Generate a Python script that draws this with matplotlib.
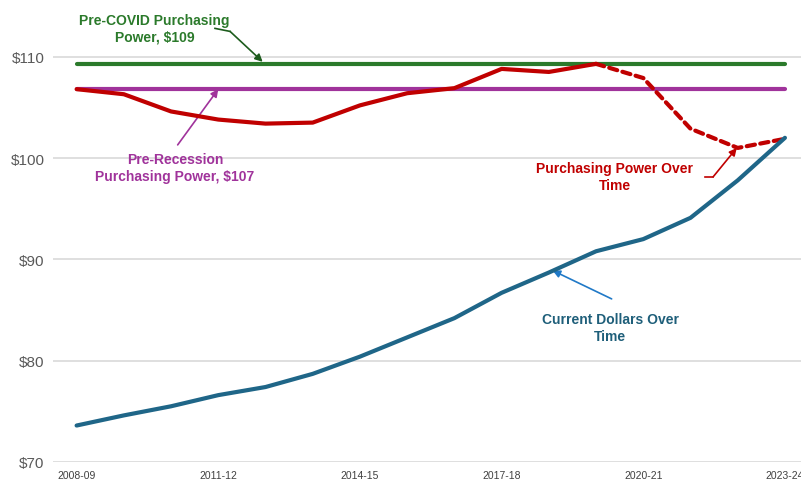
import matplotlib.pyplot as plt

years = ['2008-09', '2009-10', '2010-11', '2011-12', '2012-13', '2013-14', '2014-15',
         '2015-16', '2016-17', '2017-18', '2018-19', '2019-20', '2020-21', '2021-22',
         '2022-23', '2023-24']
current_dollars = [73.6, 74.6, 75.5, 76.6, 77.4, 78.7, 80.4, 82.3, 84.2, 86.7,
                   88.7, 90.8, 92.0, 94.1, 97.8, 102.0]
purchasing_power = [106.8, 106.3, 104.6, 103.8, 103.4, 103.5, 105.2, 106.4, 106.9,
                    108.8, 108.5, 109.3, 107.9, 102.9, 101.0, 101.9]
pre_covid = 109.3
pre_recession = 106.8
last_actual = 11  # from here on the red line is a projection (dashed)

plt.rcParams['font.family'] = ['Liberation Sans', 'DejaVu Sans']

GREEN = '#2b7a2b'
PURPLE = '#a0339b'
RED = '#c00000'
TEAL = '#1f6688'

fig = plt.figure(figsize=(8.01, 4.81), dpi=100)
ax = fig.add_axes([53 / 801, 18 / 481, 1 - 53 / 801, 463 / 481])

x = list(range(len(years)))
ax.plot(x, [pre_covid] * len(x), color=GREEN, lw=3, solid_capstyle='round', zorder=3)
ax.plot(x, [pre_recession] * len(x), color=PURPLE, lw=3, solid_capstyle='round', zorder=3)
ax.plot(x[:last_actual + 1], purchasing_power[:last_actual + 1], color=RED, lw=3,
        solid_capstyle='round', solid_joinstyle='round', zorder=4)
ax.plot(x[last_actual:], purchasing_power[last_actual:], color=RED, lw=3,
        linestyle=(0, (2, 1.3)), dash_capstyle='round', zorder=4)
ax.plot(x, current_dollars, color=TEAL, lw=3, solid_capstyle='round',
        solid_joinstyle='round', zorder=4)

ax.set_xlim(-0.5, 15.34)
ax.set_ylim(70, 115.7)
ax.set_yticks([70, 80, 90, 100, 110])
ax.set_yticklabels(['$70', '$80', '$90', '$100', '$110'], fontsize=11, color='#595959')
ax.set_xticks(x[::3])
ax.set_xticklabels(years[::3], fontsize=7.5, color='#404040')
ax.tick_params(length=0, pad=6)
ax.grid(axis='y', color='#d9d9d9', lw=1.2)
ax.set_axisbelow(True)
for s in ax.spines.values():
    s.set_visible(False)

bold = dict(fontsize=10, fontweight='bold', ha='center', va='center', linespacing=1.25)
ax.text(1.65, 112.8, 'Pre-COVID Purchasing\nPower, $109', color=GREEN, **bold)
ax.text(2.08, 99.1, 'Pre-Recession\nPurchasing Power, $107', color=PURPLE, **bold)
ax.text(11.4, 98.2, 'Purchasing Power Over\nTime', color=RED, **bold)
ax.text(11.3, 83.3, 'Current Dollars Over\nTime', color='#1f5f7a', **bold)

arrow = dict(arrowstyle='-|>', lw=1.2, shrinkA=0, shrinkB=0, mutation_scale=11)
# pre-covid arrow has a small kink near its tail
ax.plot([2.93, 3.25], [112.8, 112.5], color='#1d5c1d', lw=1.2)
ax.annotate('', xy=(3.94, 109.5), xytext=(3.25, 112.5),
            arrowprops=dict(color='#1d5c1d', **arrow))
ax.annotate('', xy=(3.0, 106.8), xytext=(2.14, 101.3),
            arrowprops=dict(color=PURPLE, **arrow))
ax.plot([13.3, 13.48], [98.15, 98.15], color=RED, lw=1.2)
ax.annotate('', xy=(13.98, 101.0), xytext=(13.48, 98.15),
            arrowprops=dict(color=RED, **arrow))
ax.annotate('', xy=(10.08, 88.9), xytext=(11.33, 86.1),
            arrowprops=dict(color='#2079c7', **arrow))

fig.savefig('out.png', dpi=100)
